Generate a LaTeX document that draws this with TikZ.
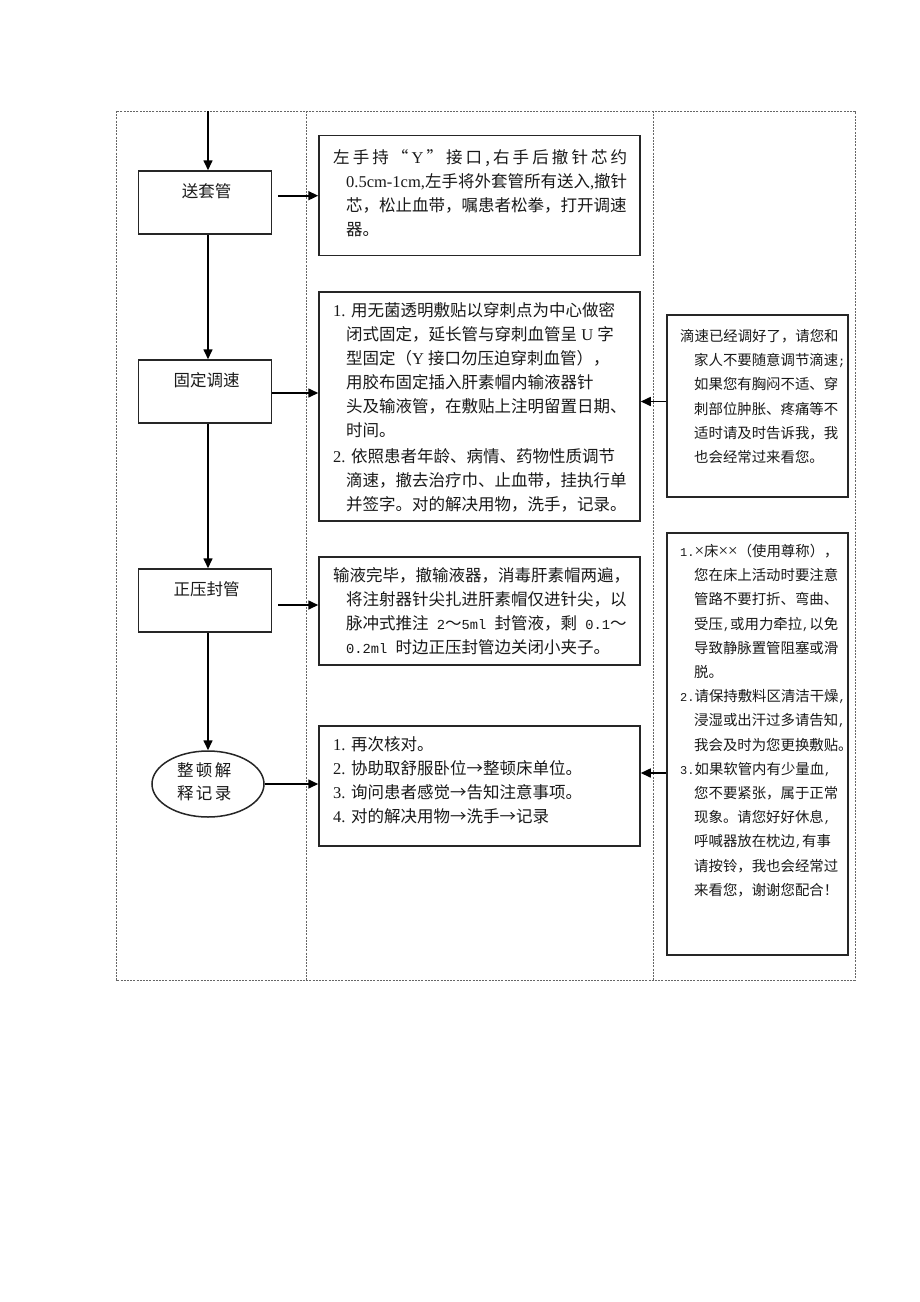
\documentclass[tikz,border=0pt]{standalone}
\usepackage{fontspec}
\setmainfont{Noto Sans CJK SC}
\newfontfamily\tnr{Liberation Serif}
\newfontfamily\mono{Liberation Mono}
\usetikzlibrary{arrows.meta,shapes.geometric}
\newcommand\hin{\hspace*{13pt}}
\newcommand\hinr{\hspace*{14pt}}
\newcommand\mo[1]{{\mono\fontsize{13.75}{24}\selectfont #1}}
\newcommand\ms[1]{{\mono\fontsize{12}{24.2}\selectfont #1}}
\newcommand\tx{{\tnr\fontsize{17}{24.2}\selectfont ×}}
\begin{document}
\begin{tikzpicture}[x=1pt,y=-1pt,
  frame/.style={draw=black!60, line width=0.7pt, dash pattern=on 2pt off 1.2pt},
  stepbox/.style={draw=black!85, line width=1.5pt, rectangle, inner sep=0pt},
  flow/.style={draw=black, line width=1.6pt, -{Triangle[length=10pt,width=9pt]}},
  midtxt/.style={anchor=north west, inner sep=0pt, align=left, font=\fontsize{16.5}{24}\selectfont, text=black!90},
  sidetxt/.style={anchor=north west, inner sep=0pt, align=left, font=\fontsize{14.4}{24.2}\selectfont, text=black!90},
  lbl/.style={inner sep=0pt, font=\fontsize{16.5}{23}\selectfont, text=black!90, align=center}
]
\useasboundingbox (0,0) rectangle (920,1302);
\fill[white] (0,0) rectangle (920,1302);

% frame
\draw[frame] (116,111) rectangle (855,980);
\draw[frame] (306.5,111) -- (306.5,980);
\draw[frame] (653.5,111) -- (653.5,980);

\coordinate (ax) at (208,0);
\coordinate (top) at (208,111);

% left column
\node[stepbox, minimum width=133pt, minimum height=63pt] (l1) at (205,202.5) {};
\node[lbl] (t1) at (206.5,191.5) {送套管};
\node[stepbox, minimum width=133pt, minimum height=63pt] (l2) at (205,391.5) {};
\node[lbl] (t2) at (206.5,380) {固定调速};
\node[stepbox, minimum width=133pt, minimum height=63pt] (l3) at (205,600.5) {};
\node[lbl] (t3) at (206.5,589) {正压封管};
\node[ellipse, draw=black!85, line width=1.5pt, minimum width=112pt, minimum height=66pt, inner sep=0pt] (l4) at (208,784) {};
\node[lbl] (t4) at (203.5,782) {\makebox[53pt][s]{整 顿 解}\\\makebox[53pt][s]{释 记 录}};

\draw[flow] (top) -- (l1.north -| ax);
\draw[flow] (l1.south -| ax) -- (l2.north -| ax);
\draw[flow] (l2.south -| ax) -- (l3.north -| ax);
\draw[flow] (l3.south -| ax) -- (l4.north);

% middle column
\node[stepbox, minimum width=321pt, minimum height=120pt] (m1) at (479.5,195.5) {};
\node[stepbox, minimum width=321pt, minimum height=229pt] (m2) at (479.5,406.5) {};
\node[stepbox, minimum width=321pt, minimum height=108pt] (m3) at (479.5,611) {};
\node[stepbox, minimum width=321pt, minimum height=120pt] (m4) at (479.5,786) {};

\coordinate (s1) at (278,195.7);
\coordinate (s3) at (278,605);
\draw[flow] (s1) -- (s1 -| m1.west);
\draw[flow] (l2.east |- 0,393) -- (m2.west |- 0,393);
\draw[flow] (s3) -- (s3 -| m3.west);
\draw[flow] (l4.east) -- (l4.east -| m4.west);

\node[midtxt] (x1) at (333,149) {\vphantom{国}\makebox[294pt][s]{左 手 持 “ {\tnr Y} ” 接 口 , 右 手 后 撤 针 芯 约}\\
\hin{\tnr 0.5cm-1cm,}左手将外套管所有送入{\tnr ,}撤针\\
\hin 芯，松止血带，嘱患者松拳，打开调速\\
\hin 器。};

\node[midtxt] (x2) at (333,302) {\vphantom{国}{\tnr 1. }用无菌透明敷贴以穿刺点为中心做密\\
\hin 闭式固定，延长管与穿刺血管呈{\tnr\ U }字\\
\hin 型固定（{\tnr Y }接口勿压迫穿刺血管），\\
\hin 用胶布固定插入肝素帽内输液器针\\
\hin 头及输液管，在敷贴上注明留置日期、\\
\hin 时间。\\[2.5pt]
{\tnr 2. }依照患者年龄、病情、药物性质调节\\
\hin 滴速，撤去治疗巾、止血带，挂执行单\\
\hin 并签字。对的解决用物，洗手，记录。};

\node[midtxt] (x3) at (333,567) {\vphantom{国}输液完毕，撤输液器，消毒肝素帽两遍，\\
\hin 将注射器针尖扎进肝素帽仅进针尖，以\\
\hin 脉冲式推注\mo{ 2}～\mo{5ml }封管液，剩\mo{ 0.1}～\\
\hin\mo{0.2ml }时边正压封管边关闭小夹子。};

\node[midtxt] (x4) at (333,736) {\vphantom{国}{\tnr 1. }再次核对。\\
{\tnr 2. }协助取舒服卧位→整顿床单位。\\
{\tnr 3. }询问患者感觉→告知注意事项。\\
{\tnr 4. }对的解决用物→洗手→记录};

% right column
\node[stepbox, minimum width=181pt, minimum height=182pt] (r1) at (757.5,406) {};
\node[stepbox, minimum width=181pt, minimum height=422pt] (r2) at (757.5,744) {};
\draw[flow] (r1.west |- 0,401.5) -- (m2.east |- 0,401.5);
\draw[flow] (r2.west |- 0,773) -- (m4.east |- 0,773);

\node[sidetxt] (y1) at (680,329) {\vphantom{国}滴速已经调好了，请您和\\
\hinr 家人不要随意调节滴速\ms{;}\\
\hinr 如果您有胸闷不适、穿\\
\hinr 刺部位肿胀、疼痛等不\\
\hinr 适时请及时告诉我，我\\
\hinr 也会经常过来看您。};

\node[sidetxt] (y2) at (680,544) {\vphantom{国}\ms{1.}\tx 床\tx\tx（使用尊称），\\
\hinr 您在床上活动时要注意\\
\hinr 管路不要打折、弯曲、\\
\hinr 受压\ms{,}或用力牵拉\ms{,}以免\\
\hinr 导致静脉置管阻塞或滑\\
\hinr 脱。\\
\ms{2.}请保持敷料区清洁干燥\ms{,}\\
\hinr 浸湿或出汗过多请告知\ms{,}\\
\hinr 我会及时为您更换敷贴。\\
\ms{3.}如果软管内有少量血\ms{,}\\
\hinr 您不要紧张，属于正常\\
\hinr 现象。请您好好休息\ms{,}\\
\hinr 呼喊器放在枕边\ms{,}有事\\
\hinr 请按铃，我也会经常过\\
\hinr 来看您，谢谢您配合！};
\end{tikzpicture}
\end{document}
